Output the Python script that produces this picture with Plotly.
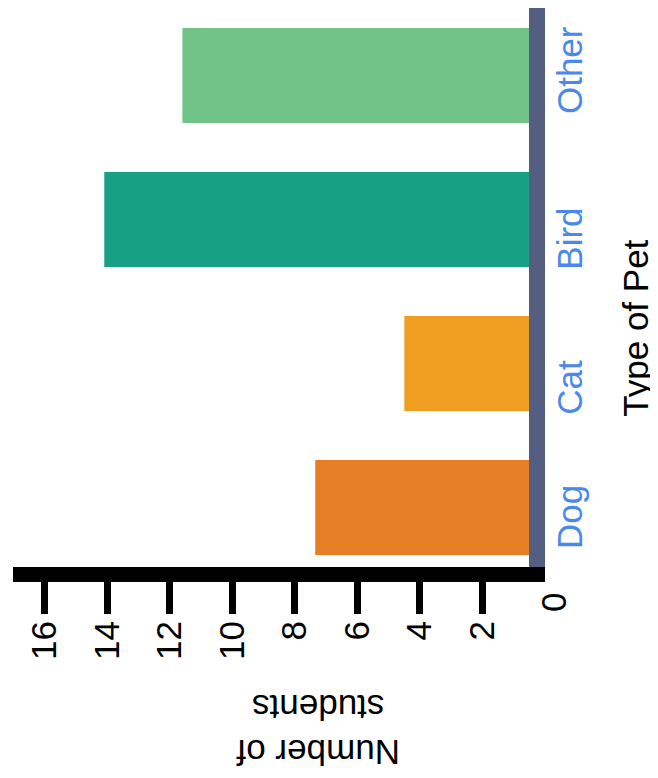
import plotly.graph_objects as go

# ---- data ----
pets = ["Dog", "Cat", "Bird", "Other"]
students = [7.35, 4.5, 14.1, 11.6]
bar_colors = ["#e47f25", "#f09e22", "#17a084", "#71c387"]
tick_values = [2, 4, 6, 8, 10, 12, 14, 16]
tick_labels = ["2", "4", "6", "8", "10", "12", "14", "16"]
zero_label = "0"
value_title = "Number of<br>students"
category_title = "Type of Pet"

# label alignment padding (non-breaking spaces after each category label)
label_pad = [3, 6, 5, 0]

FONT = "Arial, Liberation Sans, Helvetica, sans-serif"
FS = 35

cat_ticktext = [p + "\u00a0" * n for p, n in zip(pets, label_pad)]

fig = go.Figure()
fig.add_trace(go.Bar(
    x=students, y=pets, orientation="h",
    marker=dict(color=bar_colors, line=dict(width=0)),
    showlegend=False, hoverinfo="x+y",
))

fig.update_layout(
    width=650, height=770, autosize=False,
    margin=dict(l=5, r=129, t=0, b=211),
    plot_bgcolor="white", paper_bgcolor="white",
    bargap=0.34,
    font=dict(family=FONT, size=FS, color="black"),
    xaxis=dict(
        range=[17.02, 0.51],
        tickvals=tick_values, ticktext=tick_labels,
        tickangle=-90,
        ticks="outside", ticklen=32, tickwidth=7, tickcolor="black",
        ticklabelstandoff=-7,
        showline=True, linecolor="black", linewidth=15,
        showgrid=False, zeroline=False,
        tickfont=dict(family=FONT, size=FS, color="black"),
    ),
    yaxis=dict(
        type="category", categoryorder="array", categoryarray=pets,
        tickvals=pets, ticktext=cat_ticktext,
        range=[-0.413, 3.469],
        side="right",
        tickangle=-90,
        ticks="",
        ticklabelstandoff=-5,
        showline=True, linecolor="#545e80", linewidth=16,
        showgrid=False, zeroline=False,
        tickfont=dict(family=FONT, size=FS, color="#4a88ec"),
    ),
    annotations=[
        dict(text=zero_label, x=1.031, xref="paper", y=0, yref="paper",
             xanchor="center", yanchor="middle", xshift=8, yshift=-35,
             textangle=-90, showarrow=False,
             font=dict(family=FONT, size=FS, color="black")),
        dict(text=category_title, x=1.2074, xref="paper", y=0.4263, yref="paper",
             xanchor="center", yanchor="middle", textangle=-90, showarrow=False,
             font=dict(family=FONT, size=FS, color="black")),
        dict(text=value_title, x=0.591, xref="paper", y=-0.291, yref="paper",
             xanchor="center", yanchor="middle", textangle=180, showarrow=False,
             font=dict(family=FONT, size=FS, color="black")),
    ],
)

fig.write_html("out.html")
